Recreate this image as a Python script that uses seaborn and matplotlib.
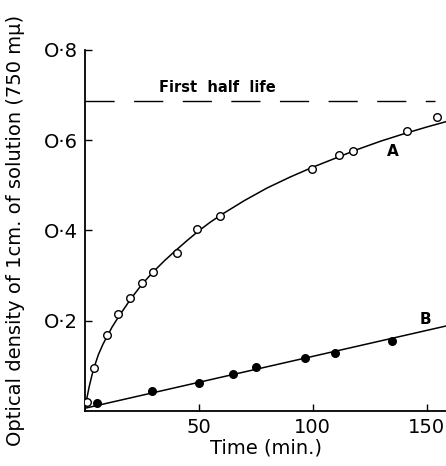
import numpy as np
import pandas as pd
import matplotlib
matplotlib.use('Agg')
import matplotlib.pyplot as plt
import seaborn as sns

sns.set_style('ticks')
plt.rcParams['font.family'] = ['DejaVu Sans']
plt.rcParams['xtick.direction'] = 'in'
plt.rcParams['ytick.direction'] = 'in'
for key in ['text.color', 'axes.labelcolor', 'xtick.color', 'ytick.color',
            'axes.edgecolor']:
    plt.rcParams[key] = 'black'

# series A (open circles)
a_time = [0.8, 4.0, 9.6, 14.5, 19.8, 25.2, 30.0, 40.3, 49.1, 59.4,
          99.6, 111.6, 117.6, 141.3, 154.6]
a_od = [0.021, 0.096, 0.168, 0.215, 0.250, 0.283, 0.309, 0.351, 0.403, 0.433,
        0.537, 0.566, 0.577, 0.621, 0.651]

# smooth curve drawn through A
a_curve_time = [0, 0.5, 1, 2, 3, 4, 6, 8, 10, 12, 15, 18, 20, 25, 30, 35,
                40, 45, 50, 55, 60, 70, 80, 90, 100, 110, 120, 130, 140,
                150, 160]
a_curve_od = [0.0, 0.015, 0.030, 0.055, 0.076, 0.095, 0.125, 0.148, 0.167,
              0.186, 0.210, 0.232, 0.247, 0.280, 0.308, 0.333, 0.356, 0.378,
              0.399, 0.418, 0.435, 0.466, 0.494, 0.518, 0.540, 0.560, 0.580,
              0.598, 0.614, 0.629, 0.643]

# series B (filled circles)
b_time = [5.2, 29.6, 50.1, 65.2, 75.1, 96.6, 109.6, 135.0]
b_od = [0.017, 0.045, 0.063, 0.083, 0.098, 0.117, 0.129, 0.156]

# straight line through B
b_line_time = [0, 160]
b_line_od = [0.006, 0.190]

half_life_od = 0.687
half_life_span = [0, 153.5]

x_ticks = [50, 100, 150]
y_ticks = [0.2, 0.4, 0.6, 0.8]
y_tick_labels = ['O·2', 'O·4', 'O·6', 'O·8']

fig = plt.figure(figsize=(4.46, 4.66), dpi=100)
ax = fig.add_axes([0.19, 0.118, 0.815, 0.775])

sns.lineplot(x=a_curve_time, y=a_curve_od, ax=ax, color='black', lw=1.1)
sns.lineplot(x=b_line_time, y=b_line_od, ax=ax, color='black', lw=1.1)
sns.scatterplot(x=a_time, y=a_od, ax=ax, marker='o', s=30,
                facecolor='white', edgecolor='black', linewidth=1.0, zorder=3)
sns.scatterplot(x=b_time, y=b_od, ax=ax, marker='o', s=30,
                color='black', edgecolor='black', linewidth=1.0, zorder=3)

ax.plot(half_life_span, [half_life_od] * 2, color='black', lw=1.0,
        dashes=(21, 14))
ax.text(58, half_life_od + 0.012, 'First  half  life', fontsize=10.5,
        fontweight='bold', ha='center', va='bottom')
ax.text(135, 0.574, 'A', fontsize=11, fontweight='bold', ha='center', va='center')
ax.text(149.5, 0.203, 'B', fontsize=11, fontweight='bold', ha='center', va='center')

ax.set_xlim(0, 159.5)
ax.set_ylim(0, 0.8)
ax.set_xticks(x_ticks)
ax.set_xticklabels([str(t) for t in x_ticks], fontsize=14)
ax.set_yticks(y_ticks)
ax.set_yticklabels(y_tick_labels, fontsize=14)
ax.tick_params(axis='both', direction='in', length=5, width=1, pad=5)
ax.set_xlabel('Time (min.)', fontsize=14, labelpad=1)
ax.set_ylabel('Optical density of 1cm. of solution (750 mμ)', fontsize=14)
ax.yaxis.set_label_coords(-0.165, 0.50)
sns.despine(ax=ax)
for s in ['left', 'bottom']:
    ax.spines[s].set_linewidth(1.3)

fig.savefig('out.png', dpi=100)
